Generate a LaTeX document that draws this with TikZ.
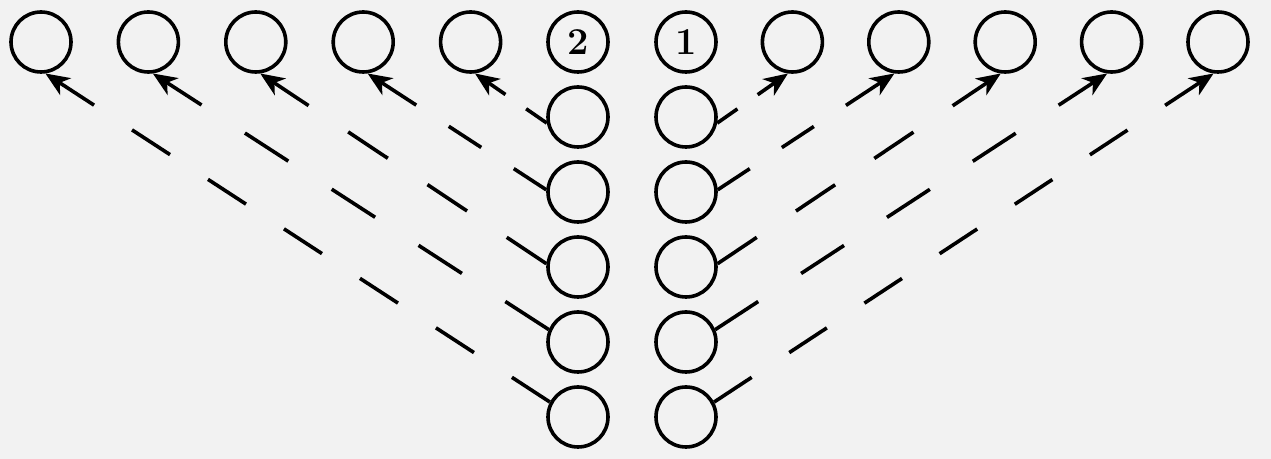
\documentclass[tikz,border=0pt]{standalone}
\usetikzlibrary{calc,arrows.meta}
\newcommand{\linkup}[5]{%
  \coordinate (s#5) at (#1);
  \coordinate (e#5) at (#2);
  \coordinate (a#5) at ($(e#5)!#4!(s#5)$);
  \draw[arr] (a#5) -- (e#5);
  \foreach \i [evaluate=\i as \fa using (\i-1)/#3, evaluate=\i as \fb using (\i-0.5)/#3] in {1,...,#3} {
    \draw[seg] ($(s#5)!\fa!(a#5)$) -- ($(s#5)!\fb!(a#5)$);
  }
}
\begin{document}
\begin{tikzpicture}[x=0.5pt,y=-0.5pt,
  ring/.style={circle, draw, line width=1.8pt, minimum size=30pt, inner sep=0pt, font=\fontsize{19}{19}\selectfont\bfseries},
  seg/.style={line width=1.8pt},
  arr/.style={line width=1.8pt, -{Stealth[length=12pt,width=10pt,inset=3.5pt]}}]
\fill[black!5] (0,0) rectangle (1271,459);
\useasboundingbox (0,0) rectangle (1271,459);
% top row, left part
\foreach \k/\x in {1/41,2/148.4,3/255.8,4/363.2,5/470.6}
  \node[ring] (TL\k) at (\x,42) {};
\node[ring] (C2) at (578,42) {2};
\node[ring] (C1) at (686,42) {1};
% top row, right part
\foreach \k/\x in {2/792.4,3/898.8,4/1005.2,5/1111.6,6/1218}
  \node[ring] (TR\k) at (\x,42) {};
% the two columns
\foreach \r in {1,...,5} {
  \node[ring] (L\r) at (578,{42+75*\r}) {};
  \node[ring] (R\r) at (686,{42+75*\r}) {};
}
% connectors, left
\linkup{L1.191}{TL5.278}{1}{18.5pt}{l1}
\linkup{L2.176}{TL4.278}{2}{29pt}{l2}
\linkup{L3.174}{TL3.278}{3}{29pt}{l3}
\linkup{L4.157}{TL2.278}{4}{29pt}{l4}
\linkup{L5.152}{TL1.278}{6}{29pt}{l5}
% connectors, right
\linkup{R1.349}{TR2.262}{1}{18.5pt}{r1}
\linkup{R2.4}{TR3.262}{2}{29pt}{r2}
\linkup{R3.6}{TR4.262}{3}{29pt}{r3}
\linkup{R4.23}{TR5.262}{4}{29pt}{r4}
\linkup{R5.28}{TR6.262}{6}{29pt}{r5}
\end{tikzpicture}
\end{document}
